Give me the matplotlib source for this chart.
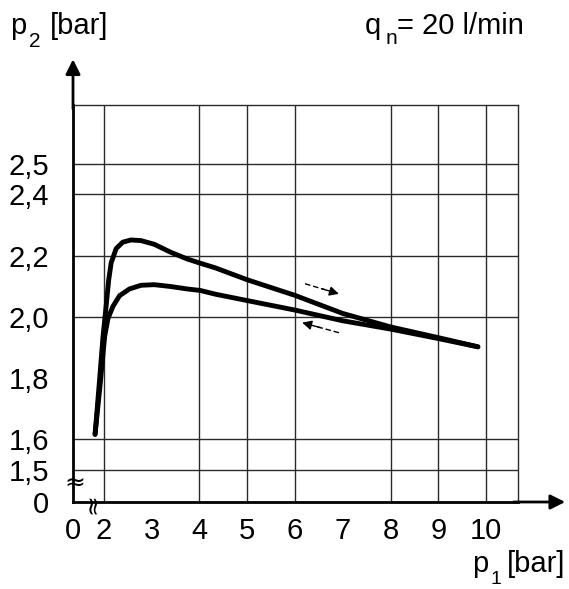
import matplotlib
matplotlib.use("Agg")
import matplotlib.pyplot as plt

plt.rcParams['font.family'] = ['Liberation Sans', 'DejaVu Sans']

# rising p1 branch (upper curve)
up_p1 = [1.813, 1.90, 1.98, 2.048, 2.098, 2.151, 2.255, 2.394, 2.566, 2.774, 3.052, 3.396, 3.743,
         4.019, 4.33, 5.0, 6.0, 7.0, 8.0, 9.0, 9.83]
up_p2 = [1.616, 1.78, 1.936, 2.040, 2.120, 2.177, 2.223, 2.244, 2.251, 2.249, 2.237, 2.211, 2.189,
         2.175, 2.160, 2.121, 2.07, 2.011, 1.967, 1.932, 1.902]

# falling p1 branch (lower curve)
down_p1 = [9.83, 9.0, 8.0, 7.0, 6.0, 5.0, 4.33, 4.019, 3.743, 3.396, 3.052, 2.774, 2.533, 2.326,
           2.187, 2.083, 2.015, 1.92, 1.813]
down_p2 = [1.902, 1.929, 1.96, 1.987, 2.022, 2.053, 2.074, 2.086, 2.091, 2.099, 2.105, 2.103, 2.091, 2.069,
           2.034, 1.994, 1.937, 1.78, 1.616]

x_ticks = [1.351, 2, 3, 4, 5, 6, 7, 8, 9, 10]
x_labels = ['0', '2', '3', '4', '5', '6', '7', '8', '9', '10']
y_ticks = [1.395, 1.5, 1.6, 1.8, 2.0, 2.2, 2.4, 2.5]
y_labels = ['0', '1,5', '1,6', '1,8', '2,0', '2,2', '2,4', '2,5']

x_grid = [2, 4, 5, 6, 8, 9, 10]
y_grid = [1.5, 1.6, 2.0, 2.2, 2.4, 2.5]

# direction arrows: (start, end)
arrow_up = [(6.21, 2.108), (6.92, 2.075)]
arrow_down = [(6.92, 1.948), (6.15, 1.981)]

W, H = 569, 589
fig = plt.figure(figsize=(W / 100, H / 100), dpi=100)
ax = fig.add_axes([73 / W, 1 - 502 / H, 445 / W, 397 / H])
ax.set_xlim(1.351, 10.67)
ax.set_ylim(1.395, 2.692)

for gx in x_grid:
    ax.axvline(gx, color='#2a2a2a', lw=1.0, zorder=1)
for gy in y_grid:
    ax.axhline(gy, color='#2a2a2a', lw=1.0, zorder=1)

ax.plot(up_p1, up_p2, color='black', lw=3.5, solid_capstyle='round', solid_joinstyle='round', zorder=3)
ax.plot(down_p1, down_p2, color='black', lw=3.5, solid_capstyle='round', solid_joinstyle='round', zorder=3)

# arrows: dashed shaft, solid head
for (x0, y0), (x1, y1) in (arrow_up, arrow_down):
    ax.plot([x0, x0 + 0.6 * (x1 - x0)], [y0, y0 + 0.6 * (y1 - y0)], color='black', lw=1.0,
            ls=(0, (4, 2)), zorder=3)
    ax.annotate('', xy=(x1, y1), xytext=(x0 + 0.5 * (x1 - x0), y0 + 0.5 * (y1 - y0)),
                arrowprops=dict(arrowstyle='-|>', color='black', lw=1.0, mutation_scale=14,
                                shrinkA=0, shrinkB=0), zorder=3)

for s in ('top', 'right'):
    ax.spines[s].set_linewidth(1.0)
    ax.spines[s].set_color('#2a2a2a')
for s in ('left', 'bottom'):
    ax.spines[s].set_linewidth(2.0)

ax.set_xticks(x_ticks, x_labels)
ax.set_yticks(y_ticks, y_labels)
ax.tick_params(length=0, labelsize=21)
ax.tick_params(axis='x', pad=11)
ax.tick_params(axis='y', pad=17)

# axis arrows beyond the frame
ax.annotate('', xy=(0, 1.115), xytext=(0, 0.99), xycoords='axes fraction',
            arrowprops=dict(arrowstyle='-|>', color='black', lw=2.0, mutation_scale=22, shrinkA=0, shrinkB=0),
            annotation_clip=False)
ax.annotate('', xy=(1.106, 0), xytext=(0.99, 0), xycoords='axes fraction',
            arrowprops=dict(arrowstyle='-|>', color='black', lw=2.0, mutation_scale=22, shrinkA=0, shrinkB=0),
            annotation_clip=False)

# axis breaks
fig.text(75 / W, 1 - 484 / H, '\u2248', fontsize=18, ha='center', va='center', family='DejaVu Sans')
fig.text(93 / W, 1 - 503 / H, '\u2248', fontsize=18, ha='center', va='center', rotation=90, family='DejaVu Sans')

def ftext(x, y, s, size=21):
    fig.text(x / W, 1 - y / H, s, fontsize=size, va='baseline', ha='left')

ftext(10, 34, 'p')
ftext(29, 47, '2', 15)
ftext(50, 34, '[bar]')
ftext(365, 34, 'q')
ftext(386, 44, 'n', 15)
ftext(397, 34, '= 20 l/min')
ftext(472, 572, 'p')
ftext(491, 584, '1', 14)
ftext(507, 572, '[bar]')

fig.savefig('out.png', dpi=100)
